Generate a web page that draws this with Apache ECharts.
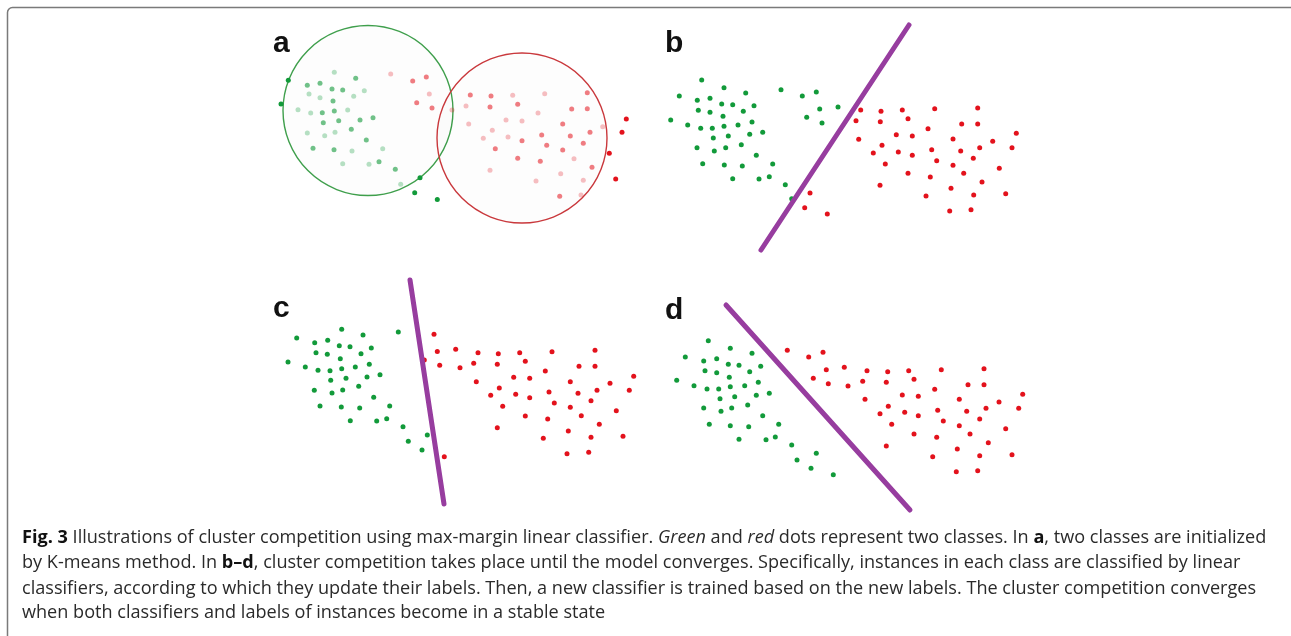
<!DOCTYPE html>
<html>
<head>
<meta charset="utf-8">
<script src="https://cdn.jsdelivr.net/npm/echarts@6/dist/echarts.min.js"></script>
<style>
html,body{margin:0;padding:0;background:#fff;}
#chart{width:1291px;height:636px;}
</style>
</head>
<body>
<div id="chart"></div>
<script>
// ---------- DATA (panel-local coordinates) ----------
// Panel a: K-means initialisation
const aGreenDark = [[18.3,60.3],[11,84],[150,157.7],[144.7,172.7],[167.3,179.5]];
const aGreenMid = [[50,63.3],[62,69],[72.7,70],[85.7,58.3],[37.3,65.3],[63,81],[52.3,92.7],[53.3,102.7],[68.7,100.7],[90,100],[103,97.7],[81.3,109.3],[43,128.3],[64,129.7],[125.3,149.3],[109,141.7],[96.3,120],[64.3,91]];
const aGreenLight = [[64.3,52.3],[39,74],[50,77.7],[83.7,76.3],[94.3,70.7],[28,89.7],[40.7,93],[77.7,90],[37.3,113],[54.7,115.7],[65,112.3],[82,131],[112.7,128.7],[72.7,143.7],[99,144.3],[130.7,164.3]];
const aRedDark = [[356.3,99],[352,112.3],[339.3,133.3],[345.7,159]];
const aRedMid = [[142.7,61],[156.3,57],[146.7,82.7],[162,88],[200.3,75],[221,76],[220,87],[247.7,84.3],[301.7,89],[317.3,88.7],[317.3,72.7],[292.7,104],[252,120.7],[271.7,115],[300.3,116],[320,112.3],[225.3,128.7],[276.7,125.3],[292.7,130],[313.3,123.3],[247.7,138.3],[270.3,141.3],[322,147.3],[289.7,176.3]];
const aRedLight = [[120.7,54],[159.3,74],[182,90],[242.7,75.3],[274.7,73.7],[196,86],[268,93],[236,100],[252,101],[198.7,104],[222.3,110.3],[213.3,118.3],[238,117],[332.7,106.7],[304,138.7],[220,150.3],[266,161],[290.7,153.7],[313.3,160.3],[311,175]];
const aGreenCircle = [[98,90.5,85]];   // centre x, centre y, radius
const aRedCircle = [[252,118,85]];

// Panel b
const bGreen = [[51.7,65],[74,72.7],[29.3,81],[47.3,85.3],[60,83.3],[95.7,78],[131,74.7],[152.3,81],[166.3,77],[71.7,89],[82.7,89.7],[104,90.7],[48.3,95.3],[60,97.3],[93.3,96.3],[169.7,94],[188,92],[20.7,105],[73,101.3],[37.7,110],[50.7,113.3],[62.3,113.3],[74,111.3],[88,110],[102,107],[156.7,102.3],[172,108],[63.3,123],[78.3,121],[99.7,119.3],[112.7,117.3],[47,132.7],[64.3,136],[75.7,132.7],[91.3,129.7],[106.3,140.3],[52.7,148.7],[74.3,150],[92.3,151],[122.7,149],[82.7,163.7],[109,164],[119.3,161.7],[135.3,169.7],[141.7,183.7]];
const bRed = [[160,178],[154.7,192.7],[177.3,199],[210.7,95],[231,96.3],[252.3,95],[284.7,93.7],[327.7,93],[206,105.7],[230.3,106.7],[258,103.7],[311.7,109],[327.7,109],[278,113.7],[208.7,124.3],[246.3,119.7],[262.3,121],[303,124],[366.3,118.3],[342.7,126.3],[232,130.3],[223.3,138],[248.3,137],[262.3,140.3],[281.7,134.7],[310.7,136],[329.7,132.7],[362,132.7],[286.7,145.7],[323.3,143.3],[235.3,149],[303,150.3],[349.3,153.3],[258,158.3],[280.3,162],[313.7,158.3],[332,167],[230,170.3],[301,173.3],[276,181],[323.7,180],[355.7,178.7],[299.7,196],[321,194.7]];
const bLine = [[111,235],[259,10]];

// Panel c
const cGreen = [[71.7,54.3],[26.7,63],[44.7,67.7],[57.7,65.3],[93,60],[128.3,57],[69.3,70.7],[80,71.7],[101.3,73],[46,77.7],[57.3,79.3],[91,78.7],[18,87],[70.3,83.7],[35.3,92],[48,95.3],[60,95.7],[71.7,93.7],[85.3,92],[99.3,89.3],[60.7,105.3],[76,103.3],[97,102],[110,99.7],[44.3,115.3],[62,118],[72.7,115],[88.7,111.3],[103.7,122.3],[50,131],[71.3,132],[89.7,133],[119.7,131],[80.3,145.7],[106.7,146],[116.7,143.7],[133,151.7],[138.3,166.3],[157.3,160],[152,175]];
const cRed = [[164,59.3],[167.3,76.5],[185.7,74.2],[169.7,90.2],[154.3,85],[174.3,181.7],[208,77.7],[228.3,78.7],[249.7,77.7],[282,76.7],[325,75.3],[190,92.7],[203.7,88.3],[227.3,89.3],[255.3,86.3],[275.3,96],[309,91.3],[325,91.3],[206.3,106.7],[243.7,102.3],[259.7,103.3],[300.3,106.7],[340,108.3],[363.7,101.3],[229.3,113],[220.7,120.3],[245.7,119.3],[259.7,122.7],[279,117],[308,118.3],[327,115.3],[359.3,115.3],[232.7,131.3],[284.3,128],[300.3,132.3],[321,125.7],[346.3,135.7],[255.3,141],[277.7,144],[311.3,140.7],[329.3,149.3],[227.3,152.7],[298.3,156],[273.3,163.3],[321,162.3],[353,161.3],[297,178.7],[318.7,177.3]];
const cLine = [[140,5],[174,229]];

// Panel d
const dGreen = [[48.3,50.7],[70.3,58.3],[25.3,67],[43.7,71],[56.7,68.7],[92,63.3],[68.3,74.3],[79,75.3],[100.7,76.3],[45,80.7],[56.7,82.7],[89.7,81.7],[16.7,90.3],[69.3,87.3],[34,95.7],[47,99],[58.7,99],[70.3,96.7],[84.7,95.7],[98.3,92.3],[60,108.7],[74.7,106.7],[96.3,105.3],[109.3,103.3],[43.7,118],[61,121.3],[71.7,118],[87.7,115],[102.7,125.7],[49.3,134.3],[70.3,135.7],[88.7,136.7],[118.7,134.3],[79,149.3],[106,149.7],[115.3,147],[131.7,155],[137,170],[156.3,163.3],[151,178.3],[173.3,184.7]];
const dRed = [[127.3,60.3],[148.7,67],[163,62.3],[166.3,79.7],[184.3,77.3],[153.3,88.3],[168.3,93.7],[188,96],[207,80.7],[227.7,81.7],[248.7,80.7],[281.3,79.7],[324,78.7],[202.7,91.3],[226.3,92.3],[254,89.3],[274.7,99.3],[308,94.7],[324,94.7],[205,109.3],[242.3,105],[258.3,106.3],[299.3,109.3],[339,112],[362.7,104.3],[228.3,116.3],[220,123.7],[244.7,122.3],[258.3,125.7],[277.7,120.3],[306.7,121.3],[326,118.3],[358.7,118.3],[231.7,134.3],[283.3,131],[299.3,135.7],[319.7,129],[345.7,138.7],[254,144],[276.7,147.3],[310,144],[328.3,152.7],[226.3,156],[297.3,159],[272.7,166.7],[319.7,165.7],[352,164.7],[296.3,181.7],[317.7,180.7]];
const dLine = [[66,15],[250,220]];

const panelLabels = ['a','b','c','d'];
const captionLines = [
  '{b|Fig. 3} Illustrations of cluster competition using max-margin linear classifier. {i|Green} and {i|red} dots represent two classes. In {b|a}, two classes are initialized',
  'by K-means method. In {b|b\u2013d}, cluster competition takes place until the model converges. Specifically, instances in each class are classified by linear',
  'classifiers, according to which they update their labels. Then, a new classifier is trained based on the new labels. The cluster competition converges',
  'when both classifiers and labels of instances become in a stable state'
];

// ---------- LAYOUT ----------
const panels = [
  {left:270, top:20, width:380, height:240},
  {left:650, top:15, width:390, height:250},
  {left:270, top:275, width:380, height:235},
  {left:660, top:290, width:380, height:230}
];
const GREEN = '#129a3a', RED = '#e3121c', PURPLE = '#973d9f';
const CAP_FONT = '"Open Sans", sans-serif';
const CAP_SIZE = 18.1;

const grids = panels.map(p => ({left:p.left, top:p.top, width:p.width, height:p.height, containLabel:false}));
const xAxes = panels.map((p,i) => ({type:'value', gridIndex:i, min:0, max:p.width, show:false}));
const yAxes = panels.map((p,i) => ({type:'value', gridIndex:i, min:0, max:p.height, inverse:true, show:false}));

function dots(data, idx, color, opacity){
  return {type:'scatter', xAxisIndex:idx, yAxisIndex:idx, data:data, symbol:'circle', symbolSize:5,
    itemStyle:{color:color, opacity:opacity}, silent:true, z:3};
}
function sepLine(data, idx){
  return {type:'line', xAxisIndex:idx, yAxisIndex:idx, data:data, symbol:'none', silent:true, z:4,
    lineStyle:{color:PURPLE, width:5, cap:'round'}};
}
function circle(data, idx, color){
  return {type:'custom', xAxisIndex:idx, yAxisIndex:idx, data:data, silent:true, z:2, clip:false,
    renderItem:function(params, api){
      const c = api.coord([api.value(0), api.value(1)]);
      const r = api.size([api.value(2), 0])[0];
      return {type:'circle', shape:{cx:c[0], cy:c[1], r:r},
        style:{fill:'rgba(0,0,0,0.008)', stroke:color, lineWidth:1.4}};
    }};
}

const series = [
  circle(aGreenCircle, 0, '#3f9f4c'),
  circle(aRedCircle, 0, '#c9383c'),
  dots(aGreenLight, 0, GREEN, 0.3),
  dots(aGreenMid, 0, GREEN, 0.6),
  dots(aGreenDark, 0, GREEN, 1),
  dots(aRedLight, 0, RED, 0.27),
  dots(aRedMid, 0, RED, 0.55),
  dots(aRedDark, 0, RED, 1),
  dots(bGreen, 1, GREEN, 1),
  dots(bRed, 1, RED, 1),
  sepLine(bLine, 1),
  dots(cGreen, 2, GREEN, 1),
  dots(cRed, 2, RED, 1),
  sepLine(cLine, 2),
  dots(dGreen, 3, GREEN, 1),
  dots(dRed, 3, RED, 1),
  sepLine(dLine, 3)
];

const labelPos = [[273,44],[665,44],[273,309],[665,311]];
const graphics = [
  {type:'rect', shape:{x:7.5, y:7.5, width:1320, height:720, r:5}, style:{fill:'none', stroke:'#7a7a7a', lineWidth:1.5}, silent:true, z:0}
];
panelLabels.forEach((t,i) => {
  graphics.push({type:'text', x:labelPos[i][0], y:labelPos[i][1], silent:true, z:10,
    style:{text:t, font:'bold 30px "Liberation Sans", Arial, sans-serif', fill:'#111', align:'left', verticalAlign:'middle'}});
});
const capY = [538, 563, 589, 613];
captionLines.forEach((t,i) => {
  graphics.push({type:'text', x:22, y:capY[i], silent:true, z:10,
    style:{text:t, font: CAP_SIZE + 'px ' + CAP_FONT, fill:'#2a2a2a', align:'left', verticalAlign:'middle',
      rich:{
        b:{fontWeight:'bold', fontFamily:CAP_FONT, fontSize:CAP_SIZE, fill:'#111'},
        i:{fontStyle:'italic', fontFamily:CAP_FONT, fontSize:CAP_SIZE, fill:'#2a2a2a'}
      }}});
});

const chart = echarts.init(document.getElementById('chart'), null, {renderer:'canvas'});
chart.setOption({
  animation:false,
  backgroundColor:'#ffffff',
  grid:grids, xAxis:xAxes, yAxis:yAxes,
  series:series,
  graphic:graphics
});
</script>
</body>
</html>
